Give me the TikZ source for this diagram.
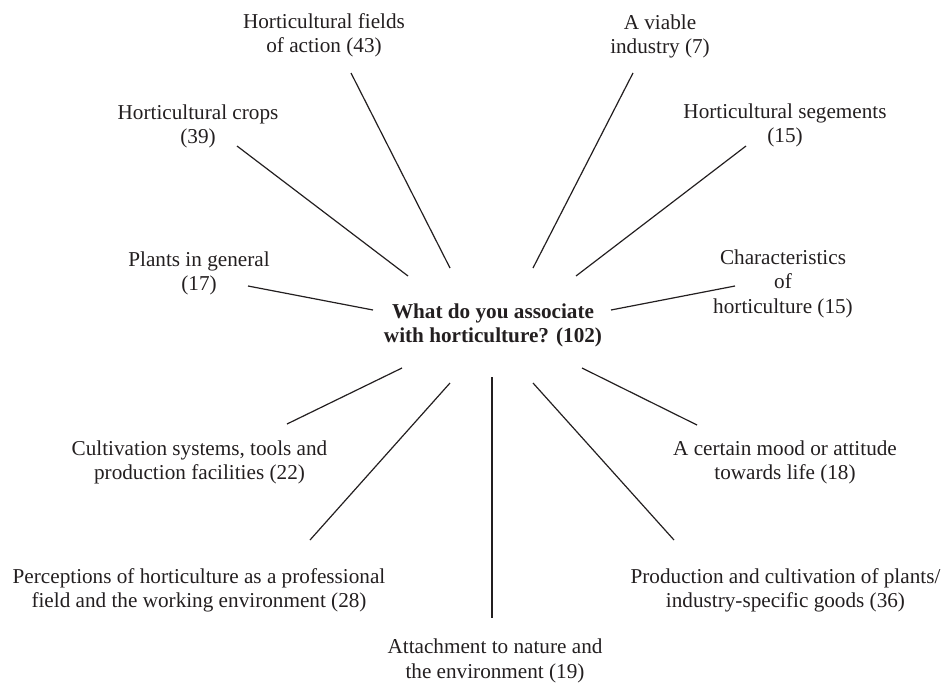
\documentclass[tikz,border=0pt]{standalone}
\usepackage{fontspec}
\setmainfont{Liberation Serif}
\definecolor{ink}{RGB}{35,31,32}
\newcommand{\labtext}[1]{\begin{tabular}[t]{@{}c@{}}#1\end{tabular}}
\begin{document}
\begin{tikzpicture}[x=1pt,y=-1pt,
  lab/.style={anchor=base, inner sep=0pt, text=ink, font=\fontsize{21.2}{24.5}\selectfont},
  ctr/.style={lab, font=\fontsize{21.2}{24.5}\selectfont\bfseries},
  link/.style={draw=ink, line width=1.2pt},
  thick link/.style={draw=ink, line width=2pt}]
\useasboundingbox (0,0) rectangle (943,683);
% labels
\node[lab] (fields) at (324,28) {\labtext{Horticultural fields\\of action (43)}};
\node[lab] (viable) at (660,29) {\labtext{A viable\\industry (7)}};
\node[lab] (crops) at (198,119) {\labtext{Horticultural crops\\(39)}};
\node[lab] (segs) at (785,118) {\labtext{Horticultural segements\\(15)}};
\node[lab] (plants) at (199,266) {\labtext{Plants in general\\(17)}};
\node[lab] (chars) at (783,264) {\labtext{Characteristics\\of\\horticulture (15)}};
\node[ctr] (center) at (493,318) {\labtext{What do you associate\\with horticulture? (102)}};
\node[lab] (cult) at (199.5,455) {\labtext{Cultivation systems, tools and\\production facilities (22)}};
\node[lab] (mood) at (785,455) {\labtext{A certain mood or attitude\\towards life (18)}};
\node[lab] (perc) at (199,583) {\labtext{Perceptions of horticulture as a professional\\field and the working environment (28)}};
\node[lab] (prod) at (785.5,583) {\labtext{Production and cultivation of plants/\\industry-specific goods (36)}};
\node[lab] (attach) at (495,653.5) {\labtext{Attachment to nature and\\the environment (19)}};
% connector ends
\coordinate (fieldsE) at (351,73);   \coordinate (fieldsC) at (450,268);
\coordinate (viableE) at (633,73);   \coordinate (viableC) at (533,268);
\coordinate (cropsE) at (237,146);   \coordinate (cropsC) at (408,276);
\coordinate (segsE) at (746,146);    \coordinate (segsC) at (576,276);
\coordinate (plantsE) at (248,286);  \coordinate (plantsC) at (373,310);
\coordinate (charsE) at (735,286);   \coordinate (charsC) at (611,310);
\coordinate (cultE) at (287,424);    \coordinate (cultC) at (402,368);
\coordinate (moodE) at (697,425);    \coordinate (moodC) at (582,368);
\coordinate (percE) at (310,540);    \coordinate (percC) at (450,383);
\coordinate (prodE) at (674,540);    \coordinate (prodC) at (533,383);
\coordinate (attachE) at (492,618);  \coordinate (attachC) at (492,377);
% connectors
\draw[link] (fieldsC) -- (fieldsE);
\draw[link] (viableC) -- (viableE);
\draw[link] (cropsC) -- (cropsE);
\draw[link] (segsC) -- (segsE);
\draw[link] (plantsC) -- (plantsE);
\draw[link] (charsC) -- (charsE);
\draw[link] (cultC) -- (cultE);
\draw[link] (moodC) -- (moodE);
\draw[link] (percC) -- (percE);
\draw[link] (prodC) -- (prodE);
\draw[thick link] (attachC) -- (attachE);
\end{tikzpicture}
\end{document}
